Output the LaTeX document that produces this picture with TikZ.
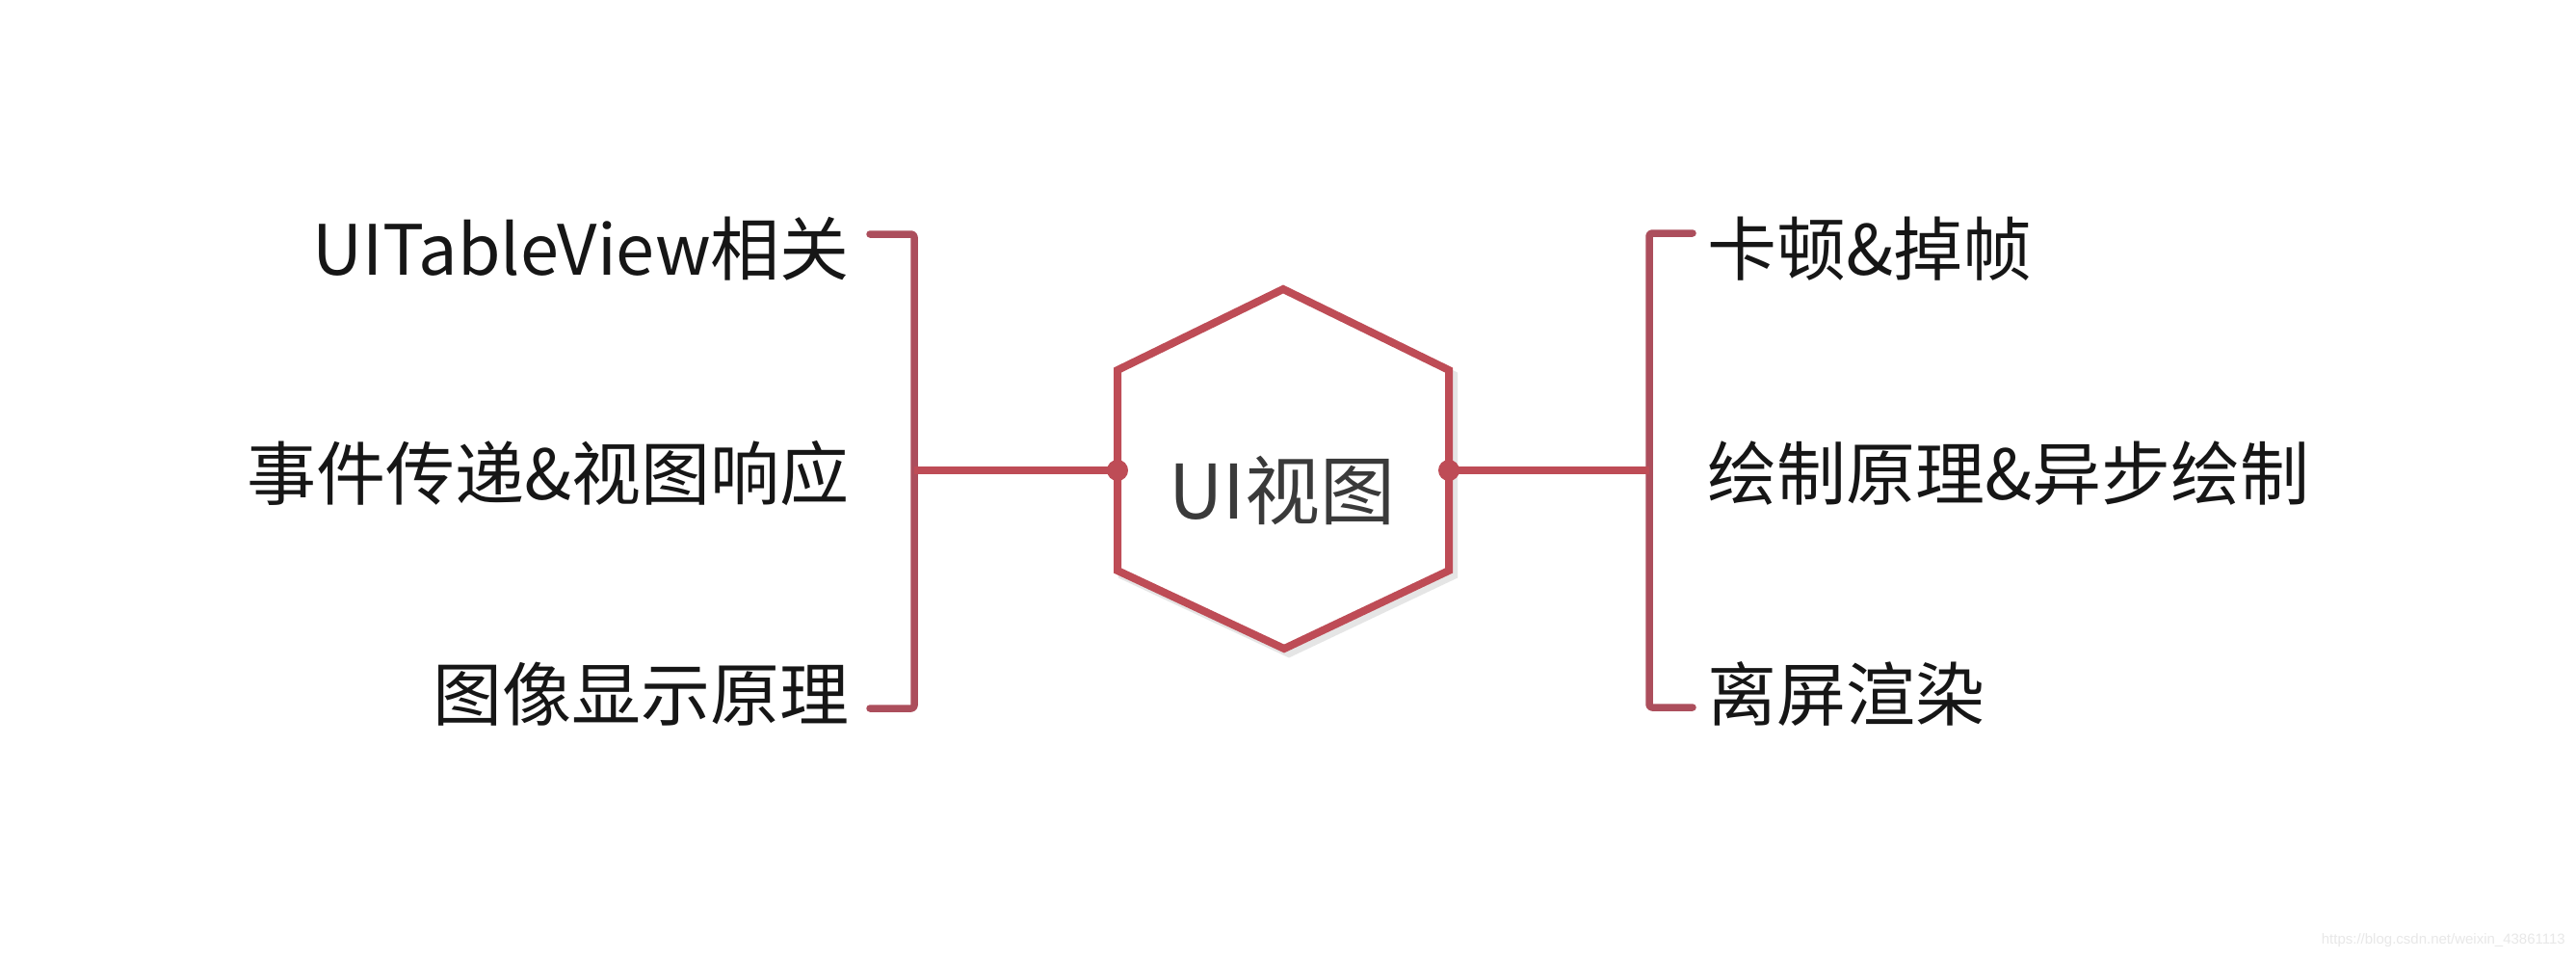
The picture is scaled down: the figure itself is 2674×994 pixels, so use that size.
\documentclass[tikz,border=0pt]{standalone}
\usepackage{fontspec}
\setmainfont{Noto Sans CJK SC}
\newfontfamily\wmfont{Liberation Sans}
\definecolor{hexred}{RGB}{190,76,86}
\definecolor{brkred}{RGB}{172,78,92}
\definecolor{txt}{RGB}{22,22,22}
\definecolor{ctxt}{RGB}{58,58,58}
\begin{document}
\begin{tikzpicture}[x=1pt,y=-1pt,
  brk/.style={draw=brkred, line width=7.5pt, line cap=round, line join=round, rounded corners=3pt},
  hexline/.style={draw=hexred, line width=8pt, line join=miter},
  hexshadow/.style={draw=black!10, line width=8pt, line join=miter},
  conn/.style={draw=hexred, line width=7.5pt},
  dotstyle/.style={circle, fill=hexred, minimum size=22pt, inner sep=0pt},
  lbl/.style={font=\fontsize{72}{80}\selectfont, text=txt, inner sep=0pt},
  ]
\useasboundingbox (0,0) rectangle (2674,994);
\fill[white] (0,0) rectangle (2674,994);

% hexagon vertices
\coordinate (hT) at (1332,300);
\coordinate (hUR) at (1504,384);
\coordinate (hLR) at (1504,592);
\coordinate (hB) at (1333,673);
\coordinate (hLL) at (1160,592);
\coordinate (hUL) at (1160,384);

\draw[hexshadow] ([shift={(5,5)}]hT) -- ([shift={(5,5)}]hUR) -- ([shift={(5,5)}]hLR) -- ([shift={(5,5)}]hB) -- ([shift={(5,5)}]hLL) -- ([shift={(5,5)}]hUL) -- cycle;
\fill[white] (hT) -- (hUR) -- (hLR) -- (hB) -- (hLL) -- (hUL) -- cycle;
\draw[hexline] (hT) -- (hUR) -- (hLR) -- (hB) -- (hLL) -- (hUL) -- cycle;

\node[font=\fontsize{78}{84}\selectfont, text=ctxt, inner sep=0pt] (center) at (1331,509) {UI视图};

% dots
\node[dotstyle] (dl) at (1160,488) {};
\node[dotstyle] (dr) at (1504,488) {};

% left bracket
\coordinate (lt0) at (903,243);
\coordinate (lt1) at (949,243);
\coordinate (lm) at (949,488);
\coordinate (lb1) at (949,735);
\coordinate (lb0) at (903,735);
\draw[brk] (lt0) -- (lt1) -- (lb1) -- (lb0);
\draw[conn] (lm) -- (dl.center);

% right bracket
\coordinate (rt0) at (1757,242);
\coordinate (rt1) at (1712,242);
\coordinate (rm) at (1712,488);
\coordinate (rb1) at (1712,734);
\coordinate (rb0) at (1757,734);
\draw[brk] (rt0) -- (rt1) -- (rb1) -- (rb0);
\draw[conn] (dr.center) -- (rm);

% labels
\node[lbl, anchor=east] (l1) at (882,258) {UITableView相关};
\node[lbl, anchor=east] (l2) at (882,491) {事件传递\&视图响应};
\node[lbl, anchor=east] (l3) at (882,720) {图像显示原理};
\node[lbl, anchor=west] (r1) at (1772,258) {卡顿\&掉帧};
\node[lbl, anchor=west] (r2) at (1772,491) {绘制原理\&异步绘制};
\node[lbl, anchor=west] (r3) at (1772,720) {离屏渲染};

\node[font=\wmfont\fontsize{15}{18}\selectfont, text=black!9, anchor=east, inner sep=0pt] (wm) at (2663,976) {https://blog.csdn.net/weixin\_43861113};
\end{tikzpicture}
\end{document}
